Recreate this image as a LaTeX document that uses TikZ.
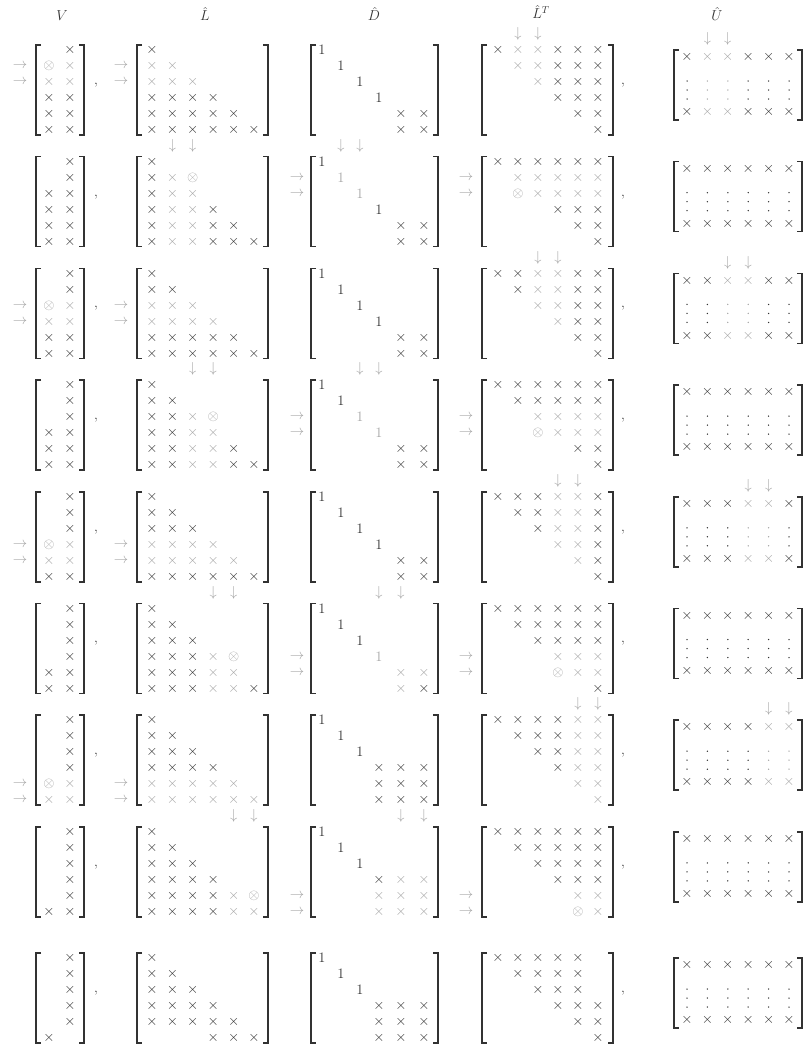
\documentclass[tikz,border=0pt]{standalone}
\usepackage{amsmath}
\definecolor{ink}{RGB}{50,50,50}
\definecolor{faint}{RGB}{165,165,165}
\definecolor{brk}{RGB}{50,50,50}
\tikzset{
  ent/.style={inner sep=0pt, font=\fontsize{14}{16}\selectfont},
  arr/.style={inner sep=0pt, font=\fontsize{13.5}{16}\selectfont, text=faint},
  bracket/.style={draw=brk, line width=1.5pt},
  head/.style={inner sep=0pt, font=\fontsize{14}{16}\selectfont, text=ink},
}
\newcommand\putent[5]{%
  \ifnum#3=1\relax
    \ifnum#4=1\relax\def\tcol{faint}\else\def\tcol{ink}\fi
    \node[ent,text=\tcol] at (#1,#2) {\ifcase#5\relax$\times$\or$\otimes$\or$1$\fi};%
  \fi}
\newcommand\lbr[3]{\draw[bracket] (#1+5,#2) -- (#1,#2) -- (#1,#3) -- (#1+5,#3);}
\newcommand\rbr[3]{\draw[bracket] (#1-5,#2) -- (#1,#2) -- (#1,#3) -- (#1-5,#3);}
\newcommand\drawstage[2]{%
  \pgfmathtruncatemacro\fin{#1==9 ? 1 : 0}%
  \pgfmathtruncatemacro\sj{int((#1+1)/2)}%
  \pgfmathtruncatemacro\pp{\fin==1 ? 0 : \sj+1}%
  \pgfmathtruncatemacro\qq{\fin==1 ? 0 : \sj+2}%
  \pgfmathtruncatemacro\od{mod(#1,2)}%
  \pgfmathtruncatemacro\nb{#1>=7 ? 4 : 5}%
  \pgfmathsetmacro\sT{#2}%
  \pgfmathsetmacro\sB{#2+90}%
  \pgfmathsetmacro\uT{#2+5}%
  \pgfmathsetmacro\uB{#2+75}%
  \lbr{36}{\sT}{\sB}\rbr{84}{\sT}{\sB}%
  \lbr{137}{\sT}{\sB}\rbr{268}{\sT}{\sB}%
  \lbr{311}{\sT}{\sB}\rbr{438}{\sT}{\sB}%
  \lbr{482}{\sT}{\sB}\rbr{613}{\sT}{\sB}%
  \lbr{674}{\uT}{\uB}\rbr{802}{\uT}{\uB}%
  \node[ent,text=ink] at (96,\sT+40) {,};%
  \node[ent,text=ink] at (623,\sT+40) {,};%
  \foreach \i in {1,...,6}{%
    \pgfmathsetmacro\ry{\sT+5+16*(\i-1)}%
    % V
    \foreach \cc in {1,2}{%
      \pgfmathtruncatemacro\ex{\fin==1 ? ((\i<=5 && \cc==2)||(\i==6 && \cc==1)) : ((\cc==2)||(\i>\pp-\od))}%
      \pgfmathtruncatemacro\gr{\od==1 && (\i==\pp||\i==\qq)}%
      \pgfmathtruncatemacro\kd{(\od==1 && \i==\pp && \cc==1) ? 1 : 0}%
      \pgfmathsetmacro\cx{28+21*\cc}%
      \putent{\cx}{\ry}{\ex}{\gr}{\kd}%
    }%
    % L hat
    \foreach \cc in {1,...,6}{%
      \pgfmathtruncatemacro\ex{\fin==1 ? ((\i<=5 && \cc<=\i)||(\i==6 && \cc>=4)) : ((\cc<=\i)||(\od==0 && \i==\pp && \cc==\qq))}%
      \pgfmathtruncatemacro\gr{(\od==1 && (\i==\pp||\i==\qq)) || (\od==0 && (\cc==\pp||\cc==\qq))}%
      \pgfmathtruncatemacro\kd{(\od==0 && \i==\pp && \cc==\qq) ? 1 : 0}%
      \pgfmathsetmacro\cx{152+20.4*(\cc-1)}%
      \putent{\cx}{\ry}{\ex}{\gr}{\kd}%
    }%
    % D hat
    \foreach \cc in {1,...,6}{%
      \pgfmathtruncatemacro\ex{(\i==\cc && \i<\nb) || (\i>=\nb && \cc>=\nb)}%
      \pgfmathtruncatemacro\gr{\od==0 && (\i==\pp||\i==\qq||\cc==\pp||\cc==\qq)}%
      \pgfmathtruncatemacro\kd{\i<\nb ? 2 : 0}%
      \pgfmathsetmacro\cx{{322,341,360,379,401,424}[\cc-1]}%
      \putent{\cx}{\ry}{\ex}{\gr}{\kd}%
    }%
    % L hat T
    \foreach \cc in {1,...,6}{%
      \pgfmathtruncatemacro\ex{\fin==1 ? (\cc>=\i && (\cc<=5 || \i>=4)) : ((\cc>=\i)||(\od==0 && \i==\qq && \cc==\pp))}%
      \pgfmathtruncatemacro\gr{(\od==1 && (\cc==\pp||\cc==\qq)) || (\od==0 && (\i==\pp||\i==\qq))}%
      \pgfmathtruncatemacro\kd{(\od==0 && \i==\qq && \cc==\pp) ? 1 : 0}%
      \pgfmathsetmacro\cx{498+20*(\cc-1)}%
      \putent{\cx}{\ry}{\ex}{\gr}{\kd}%
    }%
  }%
  % U hat
  \foreach \cc in {1,...,6}{%
    \pgfmathsetmacro\cx{687+20.4*(\cc-1)}%
    \pgfmathtruncatemacro\gr{\od==1 && (\cc==\pp||\cc==\qq)}%
    \ifnum\gr=1\relax\def\dcol{faint}\else\def\dcol{ink}\fi
    \putent{\cx}{\sT+12}{1}{\gr}{0}%
    \putent{\cx}{\sT+67}{1}{\gr}{0}%
    \foreach \dy in {36,45,54}{\fill[\dcol] (\cx,\sT+\dy) circle (0.75pt);}%
  }%
  % arrows
  \ifnum\fin=0\relax
    \ifnum\od=1\relax
      \foreach \r in {\pp,\qq}{%
        \pgfmathsetmacro\ry{\sT+5+16*(\r-1)}%
        \node[arr] at (20,\ry) {$\rightarrow$};%
        \node[arr] at (121,\ry) {$\rightarrow$};%
        \node[arr] at ({498+20*(\r-1)},\sT-11) {$\downarrow$};%
        \node[arr] at ({687+20.4*(\r-1)},\sT-6) {$\downarrow$};%
      }%
    \else
      \foreach \r in {\pp,\qq}{%
        \pgfmathsetmacro\ry{\sT+5+16*(\r-1)}%
        \pgfmathsetmacro\dx{{322,341,360,379,401,424}[\r-1]}%
        \node[arr] at (297,\ry) {$\rightarrow$};%
        \node[arr] at (466,\ry) {$\rightarrow$};%
        \node[arr] at ({152+20.4*(\r-1)},\sT-11) {$\downarrow$};%
        \node[arr] at (\dx,\sT-11) {$\downarrow$};%
      }%
    \fi
  \fi
}
\begin{document}
\begin{tikzpicture}[x=1pt,y=-1pt]
\useasboundingbox (0,0) rectangle (804,1045);
\node[head] (hV) at (62,16) {$V$};
\node[head] (hL) at (205,14) {$\hat{L}$};
\node[head] (hD) at (374,14) {$\hat{D}$};
\node[head] (hLT) at (541,12) {$\hat{L}^T$};
\node[head] (hU) at (717,14) {$\hat{U}$};
\foreach \s in {1,...,8}{%
  \pgfmathsetmacro\tt{45+111.7*(\s-1)}%
  \drawstage{\s}{\tt}%
}
\drawstage{9}{953}
\end{tikzpicture}
\end{document}
